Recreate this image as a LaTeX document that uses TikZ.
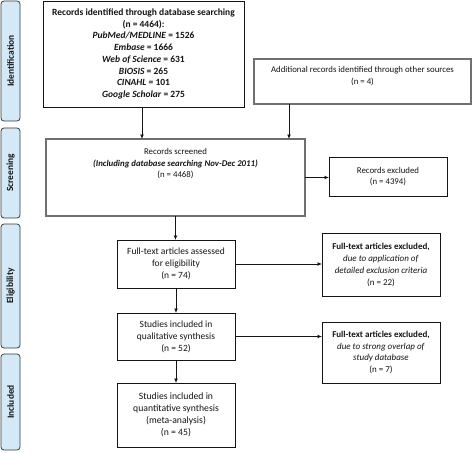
\documentclass[tikz,border=0pt]{standalone}
\usepackage{fontspec}
\setmainfont{Carlito}
\usetikzlibrary{arrows.meta,calc}
\definecolor{barfill}{HTML}{D3E9F8}
\definecolor{barline}{HTML}{3A3A3A}
\definecolor{grayline}{HTML}{707070}
\definecolor{ink}{HTML}{141414}
\tikzset{
  box/.style={draw=ink,line width=0.9pt,fill=white,inner sep=0pt,outer sep=0pt},
  graybox/.style={box,draw=grayline,line width=1.1pt},
  txt/.style={align=center,inner sep=0pt,text=ink,font=\fontsize{8.8}{11.7}\selectfont},
  bigtxt/.style={txt,font=\fontsize{9.5}{12}\selectfont},
  sidebar/.style={draw=barline,line width=0.8pt,fill=barfill,rounded corners=3pt,minimum width=19pt,inner sep=0pt,outer sep=0pt},
  sidetxt/.style={rotate=90,text=ink,font=\fontsize{9.4}{10}\selectfont\bfseries,inner sep=0pt},
  arr/.style={draw=ink,line width=0.9pt,-{Latex[length=4.5pt,width=4pt]}}
}
\begin{document}
\begin{tikzpicture}[x=1pt,y=-1pt]
\useasboundingbox (0,0) rectangle (473,452);
% side bars
\node[sidebar,minimum height=120pt] (sid) at (10.5,61) {};
\node[sidetxt] (sidt) at (sid.center) {Identification};
\node[sidebar,minimum height=90pt] (sscr) at (10.5,173) {};
\node[sidetxt] (sscrt) at (sscr.center) {Screening};
\node[sidebar,minimum height=124pt] (selg) at (10.5,286) {};
\node[sidetxt] (selgt) at (selg.center) {Eligibility};
\node[sidebar,minimum height=96pt] (sinc) at (10.5,402) {};
\node[sidetxt] (sinct) at (sinc.center) {Included};
% boxes
\node[box,minimum width=201pt,minimum height=106pt] (b1) at (143.5,54) {};
\node[txt,font=\fontsize{9.5}{11.7}\selectfont\bfseries] (t1) at (b1.center) {Records identified through database searching\\(n = 4464):\\\textit{PubMed/MEDLINE} = 1526\\\textit{Embase} = 1666\\\textit{Web of Science} = 631\\\textit{BIOSIS} = 265\\\textit{CINAHL} = 101\\\textit{Google Scholar} = 275};
\node[graybox,minimum width=217pt,minimum height=45pt] (add) at (362.5,81.5) {};
\node[txt,anchor=north] (tadd) at ([yshift=-7pt]add.north) {Additional records identified through other sources\\(n = 4)};
\node[graybox,minimum width=259pt,minimum height=77pt] (b2) at (175.5,177.5) {};
\node[txt,anchor=north] (t2) at ([yshift=-9pt]b2.north) {Records screened\\\textbf{\textit{(Including database searching Nov-Dec 2011)}}\\(n = 4468)};
\node[box,minimum width=118pt,minimum height=39pt] (ex) at (388,176.5) {};
\node[txt] (tex) at (ex.center) {Records excluded\\(n = 4394)};
\node[box,minimum width=118pt,minimum height=48pt] (b3) at (176,264) {};
\node[bigtxt] (t3) at (b3.center) {Full-text articles assessed\\for eligibility\\(n = 74)};
\node[box,minimum width=118pt,minimum height=63pt] (b4) at (381,264.5) {};
\node[txt,font=\fontsize{9}{12}\selectfont] (t4) at (b4.center) {\textbf{Full-text articles excluded,}\\\textit{due to application of}\\\textit{detailed exclusion criteria}\\(n = 22)};
\node[box,minimum width=118pt,minimum height=47pt] (b5) at (176,336.5) {};
\node[bigtxt] (t5) at (b5.center) {Studies included in\\qualitative synthesis\\(n = 52)};
\node[box,minimum width=118pt,minimum height=61pt] (b6) at (381,352.5) {};
\node[txt,font=\fontsize{9}{11.7}\selectfont] (t6) at (b6.center) {\textbf{Full-text articles excluded,}\\\textit{due to strong overlap of}\\\textit{study database}\\(n = 7)};
\node[box,minimum width=118pt,minimum height=64pt] (b7) at (176,415) {};
\node[bigtxt,font=\fontsize{9.7}{12}\selectfont] (t7) at (b7.center) {Studies included in\\quantitative synthesis\\(meta-analysis)\\(n = 45)};
% connectors
\coordinate (c1) at ([xshift=-1.5pt]b1.south);
\draw[arr] (c1) -- (c1 |- b2.north);
\coordinate (c2) at ([xshift=35pt]add.south west);
\draw[arr] (c2) -- (c2 |- b2.north);
\draw[arr] (b2.east) -- (b2.east -| ex.west);
\draw[arr] (b2.south) -- (b2.south |- b3.north);
\draw[arr] (b3.east) -- (b3.east -| b4.west);
\draw[arr] (b3.south) -- (b5.north);
\draw[arr] (b5.east) -- (b5.east -| b6.west);
\draw[arr] (b5.south) -- (b7.north);
\end{tikzpicture}
\end{document}
